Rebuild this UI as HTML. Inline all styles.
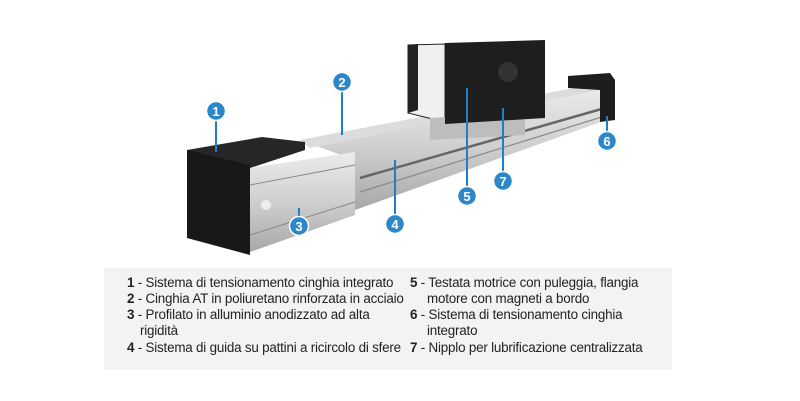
<!DOCTYPE html>
<html><head><meta charset="utf-8"><style>
body{margin:0;background:#fff;width:800px;height:401px;overflow:hidden;position:relative;font-family:"Liberation Sans",sans-serif}
.box{position:absolute;left:104px;top:268px;width:568px;height:102px;background:#f3f3f3}
.t{position:absolute;font-size:13.4px;color:#222;line-height:15px;white-space:nowrap;letter-spacing:-0.2px}
.t b{font-weight:bold}
</style></head><body>
<svg width="800" height="401" style="position:absolute;left:0;top:0">
<defs><linearGradient id="al" x1="0" y1="0" x2="0" y2="1"><stop offset="0" stop-color="#ececec"/><stop offset="0.5" stop-color="#cfcfcf"/><stop offset="1" stop-color="#a8a8a8"/></linearGradient></defs>
<polygon points="300,140 590,85 612,95 612,118 355,210 355,160" fill="url(#al)"/>
<polygon points="300,140 590,85 600,90 310,148" fill="#dcdcdc"/>
<line x1="360" y1="178" x2="605" y2="108" stroke="#666" stroke-width="2.5"/>
<line x1="360" y1="192" x2="605" y2="116" stroke="#888" stroke-width="1.2"/>
<polygon points="408,45 445,44 445,122 408,113" fill="#f0f0f0" stroke="#222" stroke-width="1"/>
<polygon points="408,45 418,44 418,110 408,113" fill="#222"/>
<polygon points="430,118 525,112 525,135 430,140" fill="#bdbdbd"/>
<polygon points="445,43 545,40 545,118 445,124" fill="#1e1e1e"/>
<circle cx="508" cy="72" r="10" fill="#333"/>
<polygon points="568,76 610,73 615,80 615,120 600,122 600,90 568,88" fill="#1d1d1d"/>
<polygon points="187,150 262,137 305,142 305,150 250,168 187,156" fill="#262626"/>
<polygon points="187,150 250,165 250,255 187,238" fill="#181818"/>
<polygon points="250,168 355,152 355,215 250,252" fill="url(#al)"/>
<line x1="250" y1="185" x2="355" y2="165" stroke="#888"/>
<line x1="250" y1="235" x2="355" y2="202" stroke="#888"/>
<circle cx="266" cy="205" r="5" fill="#eee"/>
<g stroke="#1f7fc4" stroke-width="2">
<line x1="216" y1="111" x2="216" y2="152"/><line x1="342" y1="82" x2="342" y2="135"/>
<line x1="299" y1="226" x2="299" y2="208"/><line x1="395" y1="224" x2="395" y2="160"/>
<line x1="467" y1="196" x2="467" y2="88"/><line x1="607" y1="141" x2="607" y2="116"/>
<line x1="503" y1="181" x2="503" y2="108"/></g>
<g fill="#2b87c8" stroke="#fff" stroke-width="1.5">
<circle cx="216" cy="111" r="9.5"/><circle cx="342" cy="82" r="9.5"/><circle cx="299" cy="226" r="9.5"/>
<circle cx="395" cy="224" r="9.5"/><circle cx="467" cy="196" r="9.5"/><circle cx="607" cy="141" r="9.5"/><circle cx="503" cy="181" r="9.5"/></g>
<g fill="#fff" font-family="Liberation Sans" font-weight="bold" font-size="13" text-anchor="middle">
<text x="216" y="116">1</text><text x="342" y="87">2</text><text x="299" y="231">3</text><text x="395" y="229">4</text>
<text x="467" y="201">5</text><text x="607" y="146">6</text><text x="503" y="186">7</text></g>
</svg>
<div class="box"></div>
<div class="t" style="left:127px;top:275px"><b>1</b> - Sistema di tensionamento cinghia integrato</div>
<div class="t" style="left:127px;top:291px"><b>2</b> - Cinghia AT in poliuretano rinforzata in acciaio</div>
<div class="t" style="left:127px;top:307px"><b>3</b> - Profilato in alluminio anodizzato ad alta</div>
<div class="t" style="left:140px;top:323px">rigidità</div>
<div class="t" style="left:127px;top:340px"><b>4</b> - Sistema di guida su pattini a ricircolo di sfere</div>
<div class="t" style="left:410px;top:275px"><b>5</b> - Testata motrice con puleggia, flangia</div>
<div class="t" style="left:427px;top:291px">motore con magneti a bordo</div>
<div class="t" style="left:410px;top:307px"><b>6</b> - Sistema di tensionamento cinghia</div>
<div class="t" style="left:427px;top:323px">integrato</div>
<div class="t" style="left:410px;top:340px"><b>7</b> - Nipplo per lubrificazione centralizzata</div>
</body></html>
